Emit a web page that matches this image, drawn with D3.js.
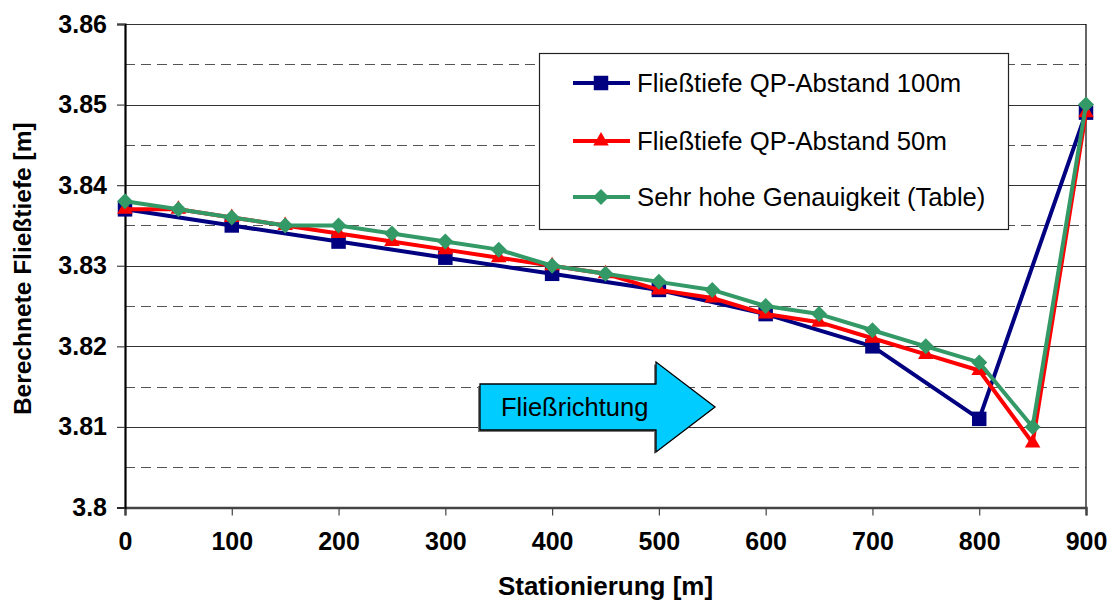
<!DOCTYPE html>
<html>
<head>
<meta charset="utf-8">
<script src="https://cdn.jsdelivr.net/npm/d3@7"></script>
<style>
  body { margin: 0; background: #fff; }
  svg { display: block; font-family: "Liberation Sans", Arial, sans-serif; }
</style>
</head>
<body>
<div class="chart"></div>
<script>
// data
const stations100 = [0, 100, 200, 300, 400, 500, 600, 700, 800, 900];
const depth100 = [3.837, 3.835, 3.833, 3.831, 3.829, 3.827, 3.824, 3.820, 3.811, 3.849];

const stations50 = [0, 50, 100, 150, 200, 250, 300, 350, 400, 450, 500, 550, 600, 650, 700, 750, 800, 850, 900];
const depth50 = [3.837, 3.837, 3.836, 3.835, 3.834, 3.833, 3.832, 3.831, 3.830, 3.829, 3.827, 3.826, 3.824, 3.823, 3.821, 3.819, 3.817, 3.808, 3.849];
const depthTable = [3.838, 3.837, 3.836, 3.835, 3.835, 3.834, 3.833, 3.832, 3.830, 3.829, 3.828, 3.827, 3.825, 3.824, 3.822, 3.820, 3.818, 3.810, 3.850];

const seriesNames = ['Fließtiefe QP-Abstand 100m', 'Fließtiefe QP-Abstand 50m', 'Sehr hohe Genauigkeit (Table)'];
const xTicks = [0, 100, 200, 300, 400, 500, 600, 700, 800, 900];
const yTicks = [3.80, 3.81, 3.82, 3.83, 3.84, 3.85, 3.86];
const yMinorTicks = [3.805, 3.815, 3.825, 3.835, 3.845, 3.855];

const xTitle = 'Stationierung [m]';
const yTitle = 'Berechnete Fließtiefe [m]';
const arrowLabel = 'Fließrichtung';

function makeSeries() {
  return [
    { name: seriesNames[0], color: '#000080', shape: 'square', points: stations100.map((s, i) => [s, depth100[i]]) },
    { name: seriesNames[1], color: '#ff0000', shape: 'triangle', points: stations50.map((s, i) => [s, depth50[i]]) },
    { name: seriesNames[2], color: '#339966', shape: 'diamond', points: stations50.map((s, i) => [s, depthTable[i]]) }
  ];
}

function drawMarker(g, shape, color) {
  if (shape === 'square') {
    g.append('path').attr('d', d3.symbol(d3.symbolSquare, 210)()).attr('fill', color);
  } else if (shape === 'triangle') {
    g.append('path').attr('d', d3.symbol(d3.symbolTriangle, 105)()).attr('fill', color);
  } else {
    g.append('path').attr('d', d3.symbol(d3.symbolSquare, 128)())
      .attr('transform', 'rotate(45)').attr('fill', color);
  }
}

function createChart() {
  let width = 1111,
    height = 604;
  let left = 125, right = 1086, top = 24, bottom = 507.5;

  let svg = d3.select('.chart').append('svg')
    .attr('width', width)
    .attr('height', height);

  let x = d3.scaleLinear().domain([0, 900]).range([left, right]);
  let y = d3.scaleLinear().domain([3.80, 3.86]).range([bottom, top]);

  // minor dashed grid
  svg.append('g').selectAll('line').data(yMinorTicks).join('line')
    .attr('x1', left).attr('x2', right)
    .attr('y1', d => Math.round(y(d)) + 0.5).attr('y2', d => Math.round(y(d)) + 0.5)
    .attr('stroke', '#555').attr('stroke-width', 1).attr('stroke-dasharray', '10,6');

  // major grid
  svg.append('g').selectAll('line').data(yTicks.slice(1)).join('line')
    .attr('x1', left).attr('x2', right)
    .attr('y1', d => Math.round(y(d)) + 0.5).attr('y2', d => Math.round(y(d)) + 0.5)
    .attr('stroke', '#333').attr('stroke-width', 1);

  // right border
  svg.append('line')
    .attr('x1', right).attr('x2', right).attr('y1', top).attr('y2', bottom)
    .attr('stroke', '#000').attr('stroke-width', 1.2);

  // axes
  let xAxis = d3.axisBottom(x).tickValues(xTicks).tickSize(8).tickPadding(17).tickFormat(d3.format('d'));
  let gx = svg.append('g').attr('transform', `translate(0,${bottom})`).call(xAxis);
  gx.select('.domain').attr('stroke', '#444').attr('stroke-width', 2.5);
  gx.selectAll('.tick line').attr('stroke', '#444').attr('stroke-width', 1.2);
  gx.selectAll('.tick text').attr('font-size', 25).attr('font-weight', 'bold')
    .attr('font-family', '"Liberation Sans", Arial, sans-serif').attr('fill', '#000');

  let yAxis = d3.axisLeft(y).tickValues(yTicks).tickSize(8).tickPadding(10).tickFormat(d => String(+d.toFixed(2)));
  let gy = svg.append('g').attr('transform', `translate(${left},0)`).call(yAxis);
  gy.select('.domain').attr('stroke', '#000').attr('stroke-width', 2.2);
  gy.selectAll('.tick line').attr('stroke', '#444').attr('stroke-width', 1.2);
  gy.selectAll('.tick text').attr('font-size', 25).attr('font-weight', 'bold')
    .attr('font-family', '"Liberation Sans", Arial, sans-serif').attr('fill', '#000');

  // axis titles
  svg.append('text')
    .attr('x', (left + right) / 2).attr('y', 595)
    .attr('text-anchor', 'middle').attr('font-size', 26).attr('font-weight', 'bold')
    .text(xTitle);
  svg.append('text')
    .attr('transform', `translate(31,${(top + bottom) / 2 + 3}) rotate(-90)`)
    .attr('text-anchor', 'middle').attr('font-size', 24.5).attr('font-weight', 'bold')
    .text(yTitle);

  // flow direction arrow
  let ax0 = 480, ax1 = 656, ax2 = 715, ayTop = 384, ayBot = 430, ahTop = 362, ahBot = 452;
  let ayMid = (ayTop + ayBot) / 2;
  let arrowPts = [[ax0, ayTop], [ax1, ayTop], [ax1, ahTop], [ax2, ayMid], [ax1, ahBot], [ax1, ayBot], [ax0, ayBot]];
  svg.append('path')
    .attr('d', d3.line()(arrowPts) + 'Z')
    .attr('transform', 'translate(-2,2)')
    .attr('fill', '#777');
  svg.append('path')
    .attr('d', d3.line()(arrowPts) + 'Z')
    .attr('fill', '#00ccff').attr('stroke', '#000').attr('stroke-width', 1.3);
  svg.append('text')
    .attr('x', 501).attr('y', 416)
    .attr('font-size', 25.5).attr('fill', '#000')
    .text(arrowLabel);

  // series
  let series = makeSeries();
  let line = d3.line().x(d => x(d[0])).y(d => y(d[1]));
  series.forEach(s => {
    let g = svg.append('g');
    g.append('path').datum(s.points)
      .attr('d', line)
      .attr('fill', 'none').attr('stroke', s.color).attr('stroke-width', 4)
      .attr('stroke-linejoin', 'round');
    g.selectAll('g.marker').data(s.points).join('g')
      .attr('class', 'marker')
      .attr('transform', d => `translate(${x(d[0])},${y(d[1])})`)
      .each(function () { drawMarker(d3.select(this), s.shape, s.color); });
  });

  // legend
  let lg = svg.append('g');
  lg.append('rect')
    .attr('x', 539.5).attr('y', 53.5).attr('width', 469).attr('height', 176)
    .attr('fill', '#fff').attr('stroke', '#222').attr('stroke-width', 1.2);
  let rowY = [83, 141, 197];
  series.forEach((s, i) => {
    let row = lg.append('g').attr('transform', `translate(0,${rowY[i]})`);
    row.append('line').attr('x1', 573).attr('x2', 630).attr('y1', 0).attr('y2', 0)
      .attr('stroke', s.color).attr('stroke-width', 4);
    let m = row.append('g').attr('transform', 'translate(601,0)');
    drawMarker(m, s.shape, s.color);
    row.append('text').attr('x', 637).attr('y', 9)
      .attr('font-size', 25.7).attr('fill', '#000')
      .text(s.name);
  });
}

window.onload = createChart;
</script>
</body>
</html>
